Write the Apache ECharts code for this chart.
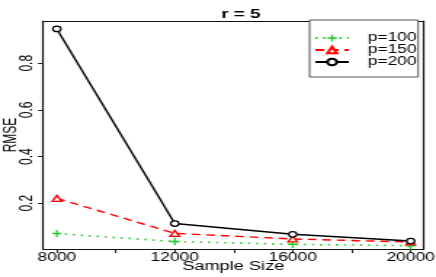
<!DOCTYPE html>
<html>
<head>
<meta charset="utf-8">
<script src="https://cdn.jsdelivr.net/npm/echarts@6/dist/echarts.min.js"></script>
<style>
html,body{margin:0;padding:0;background:#fff;overflow:hidden;}
#chart{width:300px;height:277px;transform:scaleX(1.45333);transform-origin:0 0;}
</style>
</head>
<body>
<div id="chart"></div>
<script>
// Data
const sampleSizes = [8000, 12000, 16000, 20000];
const rmseP100 = [0.070, 0.036, 0.024, 0.018];
const rmseP150 = [0.221, 0.071, 0.047, 0.034];
const rmseP200 = [0.947, 0.113, 0.067, 0.038];
const seriesNames = ['p=100', 'p=150', 'p=200'];
const xTickValues = [8000, 10000, 12000, 14000, 16000, 18000, 20000];
const xLabelValues = [8000, 12000, 16000, 20000];
const yTickValues = [0.2, 0.4, 0.6, 0.8];
const titleText = 'r = 5';
const xAxisTitle = 'Sample Size';
const yAxisTitle = 'RMSE';

const font = '"Liberation Sans", Arial, Helvetica, sans-serif';
const pair = (xs, ys) => xs.map((x, i) => [x, ys[i]]);
const plusPath = 'path://M0,4H10V6H0Z M4,0H6V10H4Z';
const boxLine = () => ({show: true, onZero: false, lineStyle: {color: '#111', width: 1.2}});
const xRange = {min: 7525, max: 20440};
const yRange = {min: 0.004, max: 0.981};
const frameX = pos => ({type: 'value', position: pos, ...xRange,
  axisLine: boxLine(), axisTick: {show: false}, axisLabel: {show: false}, splitLine: {show: false}});
const frameY = pos => ({type: 'value', position: pos, ...yRange,
  axisLine: boxLine(), axisTick: {show: false}, axisLabel: {show: false}, splitLine: {show: false}});

const chart = echarts.init(document.getElementById('chart'), null, {renderer: 'canvas'});
chart.setOption({
  animation: false,
  backgroundColor: '#ffffff',
  title: {
    text: titleText,
    left: 160.7, top: 3, textAlign: 'center',
    textStyle: {fontFamily: font, fontSize: 13, fontWeight: 'bold', color: '#000'}
  },
  legend: {
    orient: 'vertical',
    left: 213, top: 20,
    padding: [12, 1, 9, 3],
    itemGap: 0,
    itemWidth: 23, itemHeight: 8,
    borderColor: '#555', borderWidth: 1,
    backgroundColor: '#fff',
    formatter: '{g| }{t|{name}}',
    textStyle: {
      fontFamily: font, fontSize: 12, color: '#000',
      rich: {
        g: {width: 8, fontSize: 12, lineHeight: 13.5},
        t: {fontFamily: font, fontSize: 12, color: '#000', lineHeight: 13.5}
      }
    },
    data: seriesNames
  },
  grid: {
    left: 29.5, right: 8.5, top: 21, bottom: 28,
    containLabel: false,
    outerBoundsMode: 'none',
    show: false
  },
  xAxis: [{
    type: 'value', position: 'bottom', ...xRange,
    name: xAxisTitle, nameLocation: 'middle', nameGap: 11, nameMoveOverlap: false,
    nameTextStyle: {fontFamily: font, fontSize: 12.5, color: '#000'},
    axisLine: boxLine(),
    splitLine: {show: false},
    axisTick: {show: true, inside: false, length: 4, customValues: xTickValues, lineStyle: {color: '#222'}},
    axisLabel: {show: true, margin: 3, customValues: xLabelValues,
      formatter: v => String(Math.round(v)),
      fontFamily: font, fontSize: 12, color: '#000'}
  }, frameX('top')],
  yAxis: [{
    type: 'value', position: 'left', ...yRange,
    name: yAxisTitle, nameLocation: 'middle', nameGap: 16, nameRotate: 90, nameMoveOverlap: false,
    nameTextStyle: {fontFamily: font, fontSize: 12, color: '#000'},
    axisLine: boxLine(),
    splitLine: {show: false},
    axisTick: {show: true, inside: false, length: 3.4, customValues: yTickValues, lineStyle: {color: '#222'}},
    axisLabel: {show: true, rotate: 90, margin: 5, customValues: yTickValues,
      formatter: v => Number(v).toFixed(1),
      fontFamily: font, fontSize: 12, color: '#000'}
  }, frameY('right')],
  series: [
    {
      name: seriesNames[0], type: 'line', data: pair(sampleSizes, rmseP100),
      symbol: plusPath, symbolSize: [6.4, 7.4],
      lineStyle: {color: '#22cc22', width: 1.6, type: [1.5, 4]},
      itemStyle: {color: '#22cc22', borderWidth: 0}
    },
    {
      name: seriesNames[1], type: 'line', data: pair(sampleSizes, rmseP150),
      symbol: 'triangle', symbolSize: [6.5, 6],
      lineStyle: {color: '#ff0000', width: 1.4, type: [6, 4]},
      itemStyle: {color: '#fff', borderColor: '#ff0000', borderWidth: 1.3}
    },
    {
      name: seriesNames[2], type: 'line', data: pair(sampleSizes, rmseP200),
      symbol: 'circle', symbolSize: 5.5,
      lineStyle: {color: '#000', width: 1.4, type: 'solid'},
      itemStyle: {color: '#fff', borderColor: '#000', borderWidth: 1.2}
    }
  ]
});
</script>
</body>
</html>
